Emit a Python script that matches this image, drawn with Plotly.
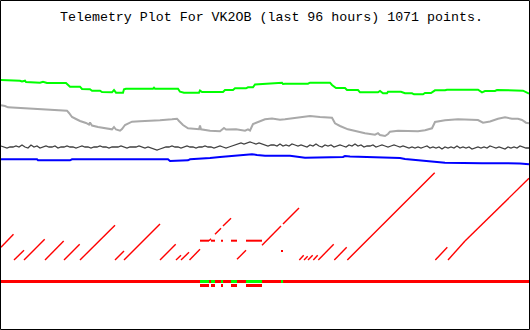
import plotly.graph_objects as go

# ---------------- data (x = sample slot across the 96 h window, y = channel value on plot scale) ----
title_text = "Telemetry Plot For VK2OB (last 96 hours) 1071 points."

green_x = [1, 7, 8, 20, 22, 25, 26, 38, 40, 43, 45, 47, 66, 68, 70, 80, 82, 90, 92, 100, 102, 112, 114, 116,
           123, 124, 126, 153, 154, 155, 178, 180, 184, 199, 200, 202, 223, 225, 233, 235, 246, 248, 253, 255,
           265, 282, 283, 285, 308, 310, 330, 332, 336, 345, 347, 358, 360, 378, 380, 382, 383, 387, 388, 401,
           405, 412, 414, 423, 425, 431, 435, 445, 447, 478, 482, 485, 495, 497, 515, 517, 523, 529]
green_y = [80, 80, 80.7, 80.7, 81.5, 80.7, 82, 82, 82.7, 81.7, 82.7, 83, 83, 85, 86.7, 86.7, 89, 89.3, 90.7,
           90.7, 92, 92.3, 90, 92.7, 92.7, 89.3, 88.7, 88.7, 87.7, 88.7, 88.7, 91.7, 92.7, 92.7, 90.5, 92, 92,
           90, 90, 88.3, 88.3, 87.3, 87.3, 84.5, 84, 82.7, 84, 83.7, 83.7, 82.7, 82.7, 85, 88, 88, 90, 90, 92.3,
           92.3, 91, 92.3, 93.3, 93.3, 91.7, 91.7, 93.3, 93.3, 94.3, 94.3, 93, 93, 90.3, 90.3, 89.7, 89.7, 92.3,
           91, 91, 90, 90, 90.7, 90.7, 93.7]

gray_x = [1, 5, 8, 15, 20, 30, 40, 45, 50, 60, 67, 69, 72, 76, 80, 86, 89, 90, 92, 98, 106, 112, 114, 116,
          120, 122, 125, 128, 132, 140, 150, 160, 172, 177, 179, 183, 188, 199, 200, 201, 210, 220, 224, 226,
          236, 245, 248, 250, 253, 258, 265, 272, 280, 285, 295, 305, 310, 320, 332, 335, 340, 348, 355, 365,
          375, 378, 380, 385, 388, 390, 398, 405, 418, 425, 432, 435, 445, 458, 470, 478, 483, 490, 498, 505,
          512, 518, 522, 526, 529]
gray_y = [105.3, 106, 107.3, 107.7, 108.3, 108.5, 109, 109.3, 109.7, 110.3, 110.7, 113, 117, 119, 121, 123,
          124.7, 122.5, 125.5, 127, 128.3, 129.3, 127, 129.5, 130.7, 129, 125, 123.5, 121.7, 121.3, 121, 120.3,
          119.3, 118.7, 121, 125, 128.3, 129.3, 125.5, 129.3, 130.7, 131.3, 128, 129.5, 129.3, 130.7, 129.3,
          130.5, 124, 122, 119.3, 118.5, 119.7, 119.3, 118, 116.7, 116, 117, 117.7, 123.3, 126, 129.3, 131,
          133.3, 134.7, 133.2, 135, 136, 134, 131.7, 130.7, 130.7, 131.3, 130.3, 128.3, 122, 120.3, 119.3,
          119.7, 120, 122.7, 121.5, 118.7, 117.3, 118.7, 118.7, 120, 122.7, 123.3]

blue_x = [1, 37, 38, 70, 72, 120, 122, 127, 168, 170, 180, 182, 188, 190, 198, 200, 210, 220, 230, 240, 248,
          252, 257, 265, 290, 305, 343, 345, 350, 392, 400, 405, 415, 428, 440, 445, 482, 498, 500, 505, 520, 529]
blue_y = [159.3, 159.3, 160.3, 160.3, 159.3, 159.3, 158.7, 159.3, 159.3, 161, 161, 160.3, 160.3, 159.3, 159,
          158.5, 158, 157, 156, 155, 154, 154.3, 155, 155.7, 155.7, 157.7, 157, 156, 156.5, 157.3, 158, 159,
          159.8, 160.7, 162, 162.7, 163.3, 163.3, 162.7, 163.3, 163.5, 164.3]

# noisy channel, one reading every 3 slots from slot 1 to slot 529
noisy_first_slot = 1
noisy_step = 3
noisy_y = [146, 147, 148, 147, 147, 146, 147, 145, 147, 148, 145, 147, 146, 148, 147, 146, 147, 147, 146, 148,
           147, 147, 146, 147,
           147, 148, 147, 146, 147, 147, 148, 147, 147, 146, 147, 147, 148, 147, 147, 147, 146, 147, 148, 147,
           147, 147, 146, 147, 148, 147,
           148, 149, 150, 149, 148, 147, 147, 146, 147, 147, 148, 147, 146, 147, 147, 148, 147, 147, 146, 147,
           147, 148, 147, 146, 147, 148, 147,
           146, 145, 144, 143, 144, 143, 142, 143, 144, 143, 144, 145,
           146, 145, 145, 146, 144, 146, 145, 146, 144, 145, 146,
           145, 146, 147, 145, 146, 144, 146, 147, 145, 146, 145, 147, 146, 145, 146, 147, 145, 146, 144, 146,
           145, 147, 146, 146, 145, 147, 146, 145, 146, 147, 146, 145, 146, 147, 146, 147, 148,
           147, 148, 147, 148, 147, 146, 148, 147, 148, 147, 149, 147, 148, 147, 148, 146, 148, 147, 148, 147,
           149, 148, 147, 148, 147, 148, 146, 147, 148, 147, 148, 149, 147, 148, 147, 148, 146, 147, 148, 148]

# counter channel: ramps (start slot, start value, end slot, end value)
ramp_x0 = [1, 14, 24, 45, 64, 80, 115, 124, 160, 176, 181, 189.5, 209, 215, 223, 237, 262, 283,
           299.3, 304, 308, 313.3, 318.3, 334.3, 347.3, 435.3, 448, 465]
ramp_y0 = [247.3, 260, 260, 260, 260, 260, 260, 260, 260, 260, 260, 260, 240.7, 234.3, 226, 259.3, 245.3, 224,
           260, 260, 260, 260, 260, 260, 260, 260, 260, 241]
ramp_x1 = [13.5, 24, 44.7, 63.7, 79.7, 115, 124, 160, 175.7, 181, 189, 200, 211, 221, 231, 246, 281, 299,
           303.7, 307.7, 312.7, 317.7, 333.7, 346.7, 434.7, 447.3, 465, 529]
ramp_y1 = [234.3, 250.3, 239.3, 241, 244.3, 225.3, 251, 224, 244.3, 255.3, 252.3, 249.3, 238.7, 228.3, 218.3,
           250.3, 226, 208, 255.3, 256.3, 255.3, 255.3, 244.3, 247.3, 172.7, 247.3, 241, 178.3]

# counter held flat during fault intervals
fault_start = [200, 211, 221, 231, 246]
fault_end = [209, 215, 223, 237, 262]
counter_hold_value = 240.7
counter_spike_x = [281, 283]
counter_spike_y = [251, 251]

# status bar
status_span = [1, 529]
status_ok_blip = [281, 283]
status_level = 281.5
fault_flag_level = 285.5

# ---------------- figure ----------------
fig = go.Figure()

def add_line(x, y, color, width):
    fig.add_trace(go.Scatter(x=x, y=y, mode="lines", line=dict(color=color, width=width),
                             hoverinfo="skip", showlegend=False))

add_line(green_x, green_y, "#00ff00", 2)
add_line(gray_x, gray_y, "#a9a9a9", 2)
noisy_x = [noisy_first_slot + noisy_step * i for i in range(len(noisy_y))]
add_line(noisy_x, noisy_y, "#404040", 1.3)
add_line(blue_x, blue_y, "#0000ff", 2)

# ramps
rx, ry = [], []
for a, b, c, d in zip(ramp_x0, ramp_y0, ramp_x1, ramp_y1):
    rx += [a, c, None]
    ry += [b, d, None]
add_line(rx, ry, "#ff0000", 1.4)

# flat holds
hx, hy = [], []
for a, b in zip(fault_start, fault_end):
    hx += [a, b, None]
    hy += [counter_hold_value, counter_hold_value, None]
add_line(hx, hy, "#ff0000", 2)
add_line(counter_spike_x, counter_spike_y, "#ff0000", 2)

# status bar
add_line(status_span, [status_level, status_level], "#ff0000", 3)
gx, gy, fx, fy = [], [], [], []
for a, b in zip(fault_start, fault_end):
    gx += [a, b, None]
    gy += [status_level, status_level, None]
    fx += [a, b, None]
    fy += [fault_flag_level, fault_flag_level, None]
gx += status_ok_blip + [None]
gy += [status_level, status_level, None]
add_line(gx, gy, "#00ff00", 3)
add_line(fx, fy, "#ff0000", 3)

fig.update_layout(
    width=530, height=330,
    margin=dict(l=0, r=0, t=0, b=0),
    paper_bgcolor="white", plot_bgcolor="white",
    xaxis=dict(range=[0, 530], visible=False, fixedrange=True),
    yaxis=dict(range=[330, 0], visible=False, fixedrange=True),
    showlegend=False,
    shapes=[dict(type="rect", xref="x", yref="y", x0=0.5, x1=529.5, y0=0.5, y1=329.5,
                 line=dict(color="black", width=1), fillcolor="rgba(0,0,0,0)")],
    annotations=[dict(text=title_text, x=271, y=17, xref="x", yref="y", showarrow=False,
                      xanchor="center", yanchor="middle",
                      font=dict(family="Liberation Mono", size=13.3, color="black"))],
)

fig.write_html("out.html", config={"displayModeBar": False})
